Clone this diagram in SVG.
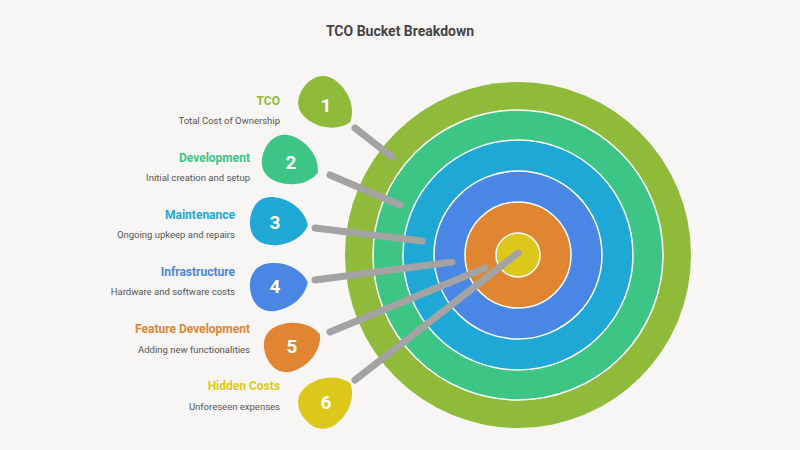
<svg xmlns="http://www.w3.org/2000/svg" width="800" height="450" viewBox="0 0 800 450">
<style>
text{font-family:Roboto,"Liberation Sans",sans-serif}
.t{font-size:12px;font-weight:bold;text-anchor:end}
.s{font-size:9.5px;fill:#555;text-anchor:end}
.n{font-size:19px;font-weight:bold;fill:#fff;text-anchor:middle}
.st{stroke:#a3a3a3;stroke-width:7;stroke-linecap:round}
.r{stroke:#fff;stroke-width:1.5}
</style>
<defs><path id="d" d="M28,0 C24,14 8,24 -8,24 C-24,24 -30,12 -30,0 C-30,-12 -24,-24 -8,-24 C8,-24 24,-14 28,0Z"/></defs>
<rect width="800" height="450" fill="#f8f6f5"/>
<text x="400" y="36" text-anchor="middle" font-size="14" font-weight="bold" fill="#444">TCO Bucket Breakdown</text>
<g id="target">
<circle cx="518" cy="255" r="173" fill="#8fba3a"/>
<circle class="r" cx="518" cy="255" r="145" fill="#3cc584"/>
<circle class="r" cx="518" cy="255" r="115" fill="#1fa8d6"/>
<circle class="r" cx="518" cy="255" r="84" fill="#4a86e4"/>
<circle class="r" cx="518" cy="255" r="53" fill="#e08532"/>
<circle class="r" cx="518" cy="255" r="22" fill="#dcc81a"/>
</g>
<g id="connectors">
<line class="st" x1="355" y1="128" x2="392" y2="157"/>
<line class="st" x1="330" y1="175" x2="400" y2="205"/>
<line class="st" x1="315" y1="228" x2="422" y2="241"/>
<line class="st" x1="315" y1="280" x2="452" y2="262"/>
<line class="st" x1="330" y1="332" x2="485" y2="268"/>
<line class="st" x1="355" y1="380" x2="518" y2="253"/>
</g>
<g id="n1"><use href="#d" transform="translate(328,105) rotate(38)" fill="#8fba3a"/><text class="n" x="326" y="112">1</text><text class="t" x="280" y="105" fill="#8fba3a">TCO</text><text class="s" x="280" y="124">Total Cost of Ownership</text></g>
<g id="n2"><use href="#d" transform="translate(292,162) rotate(23)" fill="#3cc584"/><text class="n" x="291" y="169">2</text><text class="t" x="250" y="162" fill="#3cc584">Development</text><text class="s" x="250" y="181">Initial creation and setup</text></g>
<g id="n3"><use href="#d" transform="translate(280,222) rotate(7)" fill="#1fa8d6"/><text class="n" x="275" y="229">3</text><text class="t" x="235" y="219" fill="#1fa8d6">Maintenance</text><text class="s" x="235" y="238">Ongoing upkeep and repairs</text></g>
<g id="n4"><use href="#d" transform="translate(280,286) rotate(-8)" fill="#4a86e4"/><text class="n" x="275" y="293">4</text><text class="t" x="235" y="276" fill="#4a86e4">Infrastructure</text><text class="s" x="235" y="295">Hardware and software costs</text></g>
<g id="n5"><use href="#d" transform="translate(294,345) rotate(-22)" fill="#e08532"/><text class="n" x="292" y="353">5</text><text class="t" x="250" y="333" fill="#e08532">Feature Development</text><text class="s" x="250" y="353">Adding new functionalities</text></g>
<g id="n6"><use href="#d" transform="translate(328,400) rotate(-37)" fill="#dcc81a"/><text class="n" x="326" y="409">6</text><text class="t" x="280" y="390" fill="#dcc81a">Hidden Costs</text><text class="s" x="280" y="410">Unforeseen expenses</text></g>
</svg>
